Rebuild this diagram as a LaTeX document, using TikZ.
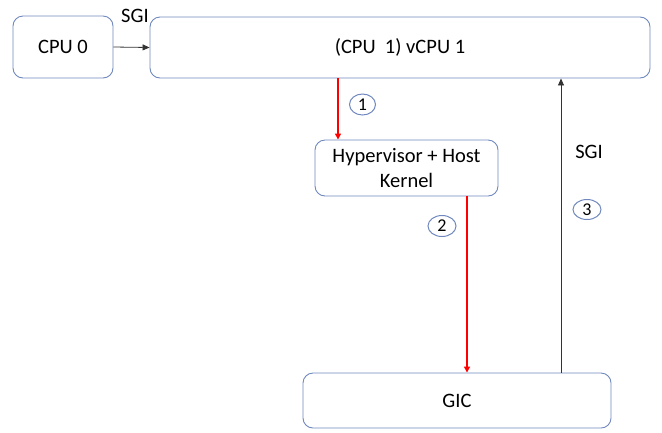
\documentclass[tikz,border=0pt]{standalone}
\usepackage{fontspec}
\setmainfont{Carlito}
\usetikzlibrary{arrows.meta,shapes.geometric}
\definecolor{boxline}{RGB}{112,136,190}
\definecolor{arrred}{RGB}{255,0,0}
\begin{document}
\begin{tikzpicture}[x=1bp,y=-1bp,
  box/.style={draw=boxline,line width=0.9bp,rounded corners=10bp,fill=white,inner sep=0pt,font=\fontsize{20.5bp}{25bp}\selectfont},
  numc/.style={draw=boxline,line width=1bp,ellipse,minimum width=28bp,minimum height=21bp,inner sep=0pt,font=\fontsize{18bp}{20bp}\selectfont},
  lbl/.style={font=\fontsize{20.5bp}{24bp}\selectfont,inner sep=0pt},
  redarr/.style={draw=arrred,line width=2bp,-{Triangle[length=6bp,width=6bp]}},
  blkarr/.style={draw=black!80,line width=0.8bp,-{Triangle[length=7bp,width=6bp]}}
]
\useasboundingbox (0,0) rectangle (662,432);
\node[box,minimum width=100bp,minimum height=62bp] (cpu0) at (63,47) {CPU 0};
\node[box,minimum width=500bp,minimum height=61bp] (vcpu) at (400,47.5) {(CPU\ \ 1) vCPU 1};
\node[box,minimum width=183bp,minimum height=56bp,align=center] (hyp) at (406.5,168) {Hypervisor + Host\\Kernel};
\node[box,minimum width=308bp,minimum height=55bp] (gic) at (457,400.5) {GIC};
\draw[blkarr] (cpu0.east) -- (vcpu.west);
\node[lbl] (sgi1) at (135,16) {SGI};
\draw[redarr] (vcpu.south -| 338,0) -- (hyp.north -| 338,0);
\draw[redarr] (hyp.south -| 467,0) -- (gic.north -| 467,0);
\draw[blkarr] (gic.north -| 561,0) -- (vcpu.south -| 561,0);
\node[lbl] (sgi2) at (589,152) {SGI};
\node[numc,minimum width=26bp] (n1) at (362.5,104.5) {1};
\node[numc] (n2) at (442,226) {2};
\node[numc,minimum height=20bp] (n3) at (587,209.5) {3};
\end{tikzpicture}
\end{document}
